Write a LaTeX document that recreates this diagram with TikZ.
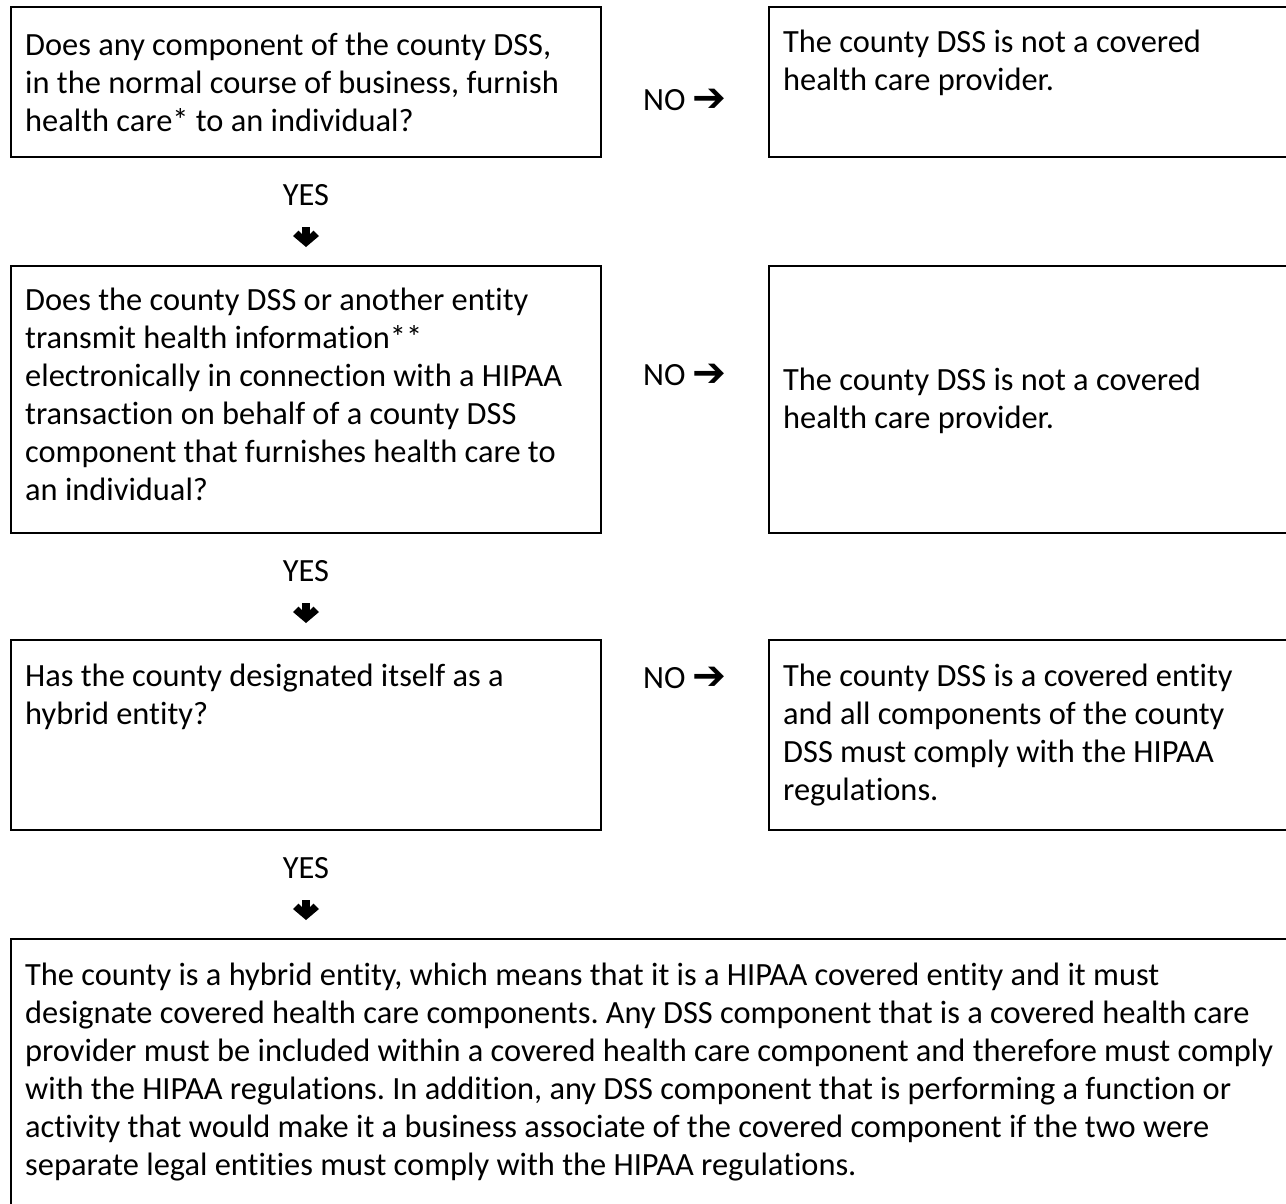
\documentclass[tikz,border=0pt]{standalone}
\usepackage{fontspec}
\setmainfont[Ligatures=NoCommon]{Carlito}
\newfontfamily\symfont{DejaVu Sans}
\newcommand{\rarr}{\raisebox{-1pt}{\scalebox{1.25}{\symfont ➔}}}
\frenchspacing
\begin{document}
\begin{tikzpicture}[x=1pt,y=-1pt,
  box/.style={draw, line width=2.6pt, inner sep=0pt, outer sep=0pt, anchor=north west},
  txt/.style={anchor=base west, inner sep=0pt, font=\fontsize{32.4}{38}\selectfont\frenchspacing},
  lbl/.style={anchor=base, inner sep=0pt, font=\fontsize{32.4}{38}\selectfont},
  downarr/.pic={
    \fill (-4,0) rectangle (4,13);
    \fill (-13,9) -- (-7.5,3.5) -- (0,11) -- (7.5,3.5) -- (13,9) -- (0,20) -- cycle;
  }]
\useasboundingbox (0,0) rectangle (1286,1203);
\clip (0,0) rectangle (1286,1203);
% boxes
\node[box, minimum width=590pt, minimum height=150pt] (q1) at (11,7) {};
\node[box, minimum width=540pt, minimum height=150pt] (a1) at (769,7) {};
\node[box, minimum width=590pt, minimum height=267pt] (q2) at (11,266) {};
\node[box, minimum width=540pt, minimum height=267pt] (a2) at (769,266) {};
\node[box, minimum width=590pt, minimum height=190pt] (q3) at (11,640) {};
\node[box, minimum width=540pt, minimum height=190pt] (a3) at (769,640) {};
\node[box, minimum width=1300pt, minimum height=300pt] (r4) at (11,939) {};
% texts
\node[txt] (t1) at (25,55) {\begin{tabular}[t]{@{}l@{}}Does any component of the county DSS,\\in the normal course of business, furnish\\health care* to an individual?\end{tabular}};
\node[txt] (u1) at (783,52) {\begin{tabular}[t]{@{}l@{}}The county DSS is not a covered\\health care provider.\end{tabular}};
\node[txt] (t2) at (25,310) {\begin{tabular}[t]{@{}l@{}}Does the county DSS or another entity\\transmit health information**\\electronically in connection with a HIPAA\\transaction on behalf of a county DSS\\component that furnishes health care to\\an individual?\end{tabular}};
\node[txt] (u2) at (783,390) {\begin{tabular}[t]{@{}l@{}}The county DSS is not a covered\\health care provider.\end{tabular}};
\node[txt] (t3) at (25,686) {\begin{tabular}[t]{@{}l@{}}Has the county designated itself as a\\hybrid entity?\end{tabular}};
\node[txt] (u3) at (783,686) {\begin{tabular}[t]{@{}l@{}}The county DSS is a covered entity\\and all components of the county\\DSS must comply with the HIPAA\\regulations.\end{tabular}};
\node[txt] (t4) at (25,985) {\begin{tabular}[t]{@{}l@{}}The county is a hybrid entity, which means that it is a HIPAA covered entity and it must\\designate covered health care components. Any DSS component that is a covered health care\\provider must be included within a covered health care component and therefore must comply\\with the HIPAA regulations. In addition, any DSS component that is performing a function or\\activity that would make it a business associate of the covered component if the two were\\separate legal entities must comply with the HIPAA regulations.\end{tabular}};
% NO labels
\node[txt] (n1) at (643,110) {NO \rarr};
\node[txt] (n2) at (643,385) {NO \rarr};
\node[txt] (n3) at (643,688) {NO \rarr};
% YES labels and arrows
\node[lbl] (y1) at (306,205) {YES};
\pic at (306,227) {downarr};
\node[lbl] (y2) at (306,581) {YES};
\pic at (306,603) {downarr};
\node[lbl] (y3) at (306,878) {YES};
\pic at (306,900) {downarr};
\end{tikzpicture}
\end{document}
